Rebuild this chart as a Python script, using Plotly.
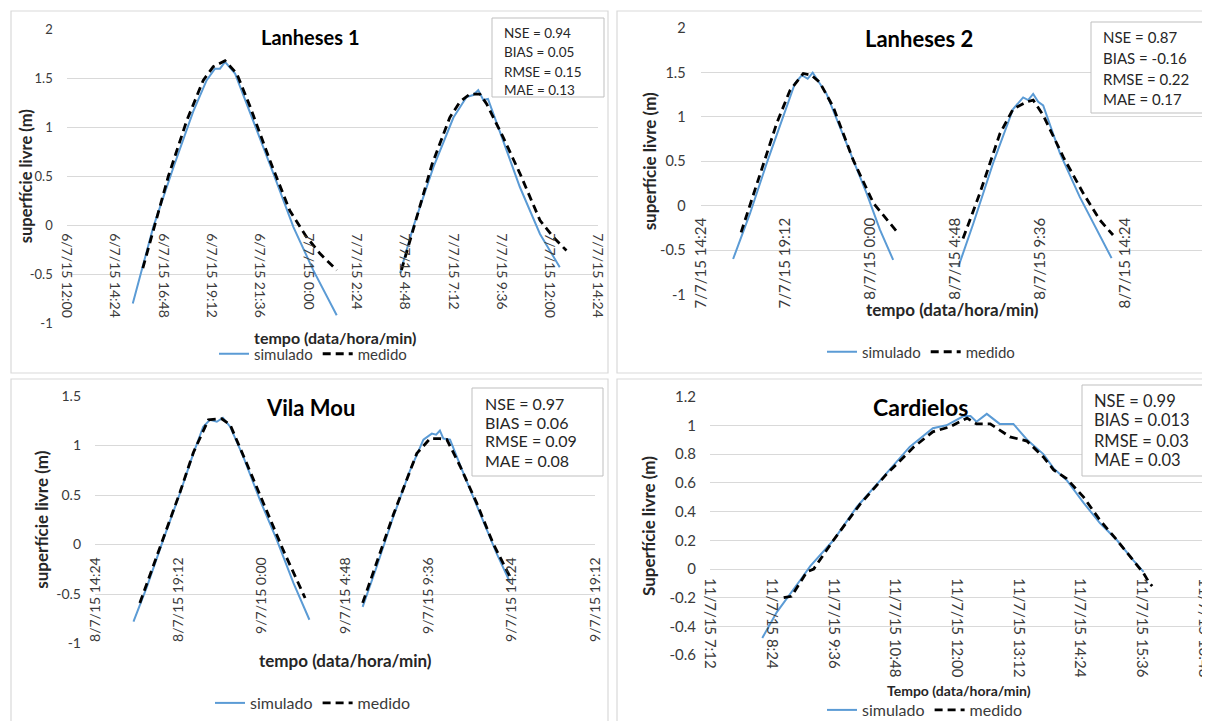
import datetime as dt
import plotly.graph_objects as go

W, H = 1210, 721

# ---------------- data ----------------
# Lanheses 1
lan1_sim_time = ["2015-07-06 15:17", "2015-07-06 16:18", "2015-07-06 17:18", "2015-07-06 18:17",
                 "2015-07-06 18:57", "2015-07-06 19:22", "2015-07-06 19:37", "2015-07-06 19:52",
                 "2015-07-06 20:22", "2015-07-06 21:16", "2015-07-06 22:16", "2015-07-06 23:16",
                 "2015-07-07 00:15", "2015-07-07 01:25", None,
                 "2015-07-07 04:34", "2015-07-07 05:13", "2015-07-07 06:13", "2015-07-07 07:13",
                 "2015-07-07 07:52", "2015-07-07 08:12", "2015-07-07 08:27", "2015-07-07 08:42",
                 "2015-07-07 08:56", "2015-07-07 09:41", "2015-07-07 10:31", "2015-07-07 11:31",
                 "2015-07-07 12:30"]
lan1_sim_val = [-0.80, -0.02, 0.59, 1.16, 1.48, 1.60, 1.60, 1.67, 1.55, 1.07, 0.53, -0.02, -0.46, -0.92, None,
                -0.49, -0.02, 0.59, 1.10, 1.31, 1.33, 1.38, 1.28, 1.29, 0.87, 0.39, -0.09, -0.43]
lan1_med_time = ["2015-07-06 15:47", "2015-07-06 16:18", "2015-07-06 17:03", "2015-07-06 17:58",
                 "2015-07-06 18:47", "2015-07-06 19:17", "2015-07-06 19:52", "2015-07-06 20:27",
                 "2015-07-06 21:07", "2015-07-06 22:06", "2015-07-06 23:05", "2015-07-06 23:55",
                 "2015-07-07 00:35", "2015-07-07 01:25", None,
                 "2015-07-07 04:38", "2015-07-07 05:13", "2015-07-07 06:09", "2015-07-07 07:02",
                 "2015-07-07 07:32", "2015-07-07 08:02", "2015-07-07 08:32", "2015-07-07 08:52",
                 "2015-07-07 09:41", "2015-07-07 10:31", "2015-07-07 11:31", "2015-07-07 12:10",
                 "2015-07-07 12:50"]
lan1_med_val = [-0.44, -0.05, 0.50, 1.07, 1.48, 1.62, 1.68, 1.55, 1.21, 0.66, 0.15, -0.12, -0.29, -0.46, None,
                -0.46, -0.05, 0.62, 1.10, 1.26, 1.34, 1.34, 1.24, 0.90, 0.53, 0.05, -0.12, -0.26]
lan1_ticks = ["6/7/15 12:00", "6/7/15 14:24", "6/7/15 16:48", "6/7/15 19:12", "6/7/15 21:36",
              "7/7/15 0:00", "7/7/15 2:24", "7/7/15 4:48", "7/7/15 7:12", "7/7/15 9:36",
              "7/7/15 12:00", "7/7/15 14:24"]
lan1_yticks = [-1, -0.5, 0, 0.5, 1, 1.5, 2]
lan1_stats = ["NSE = 0.94", "BIAS = 0.05", "RMSE = 0.15", "MAE = 0.13"]

# Lanheses 2
lan2_sim_time = ["2015-07-07 16:14", "2015-07-07 17:11", "2015-07-07 18:08", "2015-07-07 19:04",
                 "2015-07-07 19:44", "2015-07-07 20:07", "2015-07-07 20:27", "2015-07-07 20:44",
                 "2015-07-07 21:08", "2015-07-07 21:31", "2015-07-07 22:39", "2015-07-07 23:47",
                 "2015-07-08 00:32", "2015-07-08 01:17", None,
                 "2015-07-08 04:58", "2015-07-08 05:49", "2015-07-08 06:56", "2015-07-08 08:04",
                 "2015-07-08 08:38", "2015-07-08 08:55", "2015-07-08 09:12", "2015-07-08 09:29",
                 "2015-07-08 09:46", "2015-07-08 10:43", "2015-07-08 11:50", "2015-07-08 12:47",
                 "2015-07-08 13:38"]
lan2_sim_val = [-0.60, -0.09, 0.48, 1.00, 1.38, 1.47, 1.43, 1.50, 1.37, 1.26, 0.70, 0.14, -0.27, -0.61, None,
                -0.69, -0.20, 0.48, 1.09, 1.22, 1.19, 1.26, 1.17, 1.13, 0.59, 0.10, -0.27, -0.59]
lan2_med_time = ["2015-07-07 16:41", "2015-07-07 17:34", "2015-07-07 18:42", "2015-07-07 19:27",
                 "2015-07-07 20:12", "2015-07-07 20:40", "2015-07-07 21:08", "2015-07-07 21:54",
                 "2015-07-07 23:02", "2015-07-08 00:10", "2015-07-08 01:29", None,
                 "2015-07-08 05:14", "2015-07-08 06:11", "2015-07-08 07:19", "2015-07-08 08:04",
                 "2015-07-08 08:50", "2015-07-08 09:12", "2015-07-08 09:46", "2015-07-08 10:54",
                 "2015-07-08 12:02", "2015-07-08 12:58", "2015-07-08 13:43"]
lan2_med_val = [-0.30, 0.25, 0.93, 1.30, 1.49, 1.47, 1.39, 1.11, 0.51, 0.03, -0.29, None,
                -0.37, 0.14, 0.81, 1.09, 1.17, 1.19, 1.02, 0.55, 0.14, -0.16, -0.33]
lan2_ticks = ["7/7/15 14:24", "7/7/15 19:12", "8/7/15 0:00", "8/7/15 4:48", "8/7/15 9:36",
              "8/7/15 14:24", "8/7/15 19:12"]
lan2_yticks = [-1, -0.5, 0, 0.5, 1, 1.5, 2]
lan2_stats = ["NSE = 0.87", "BIAS = -0.16", "RMSE = 0.22", "MAE = 0.17"]

# Vila Mou
vila_sim_time = ["2015-07-08 16:37", "2015-07-08 17:23", "2015-07-08 18:20", "2015-07-08 19:18",
                 "2015-07-08 20:04", "2015-07-08 20:38", "2015-07-08 21:01", "2015-07-08 21:25",
                 "2015-07-08 21:46", "2015-07-08 22:11", "2015-07-08 22:56", "2015-07-08 23:54",
                 "2015-07-09 00:52", "2015-07-09 01:50", "2015-07-09 02:45", None,
                 "2015-07-09 05:49", "2015-07-09 06:38", "2015-07-09 07:35", "2015-07-09 08:33",
                 "2015-07-09 09:19", "2015-07-09 09:48", "2015-07-09 10:03", "2015-07-09 10:16",
                 "2015-07-09 10:28", "2015-07-09 10:51", "2015-07-09 11:37", "2015-07-09 12:35",
                 "2015-07-09 13:32", "2015-07-09 14:18"]
vila_sim_val = [-0.78, -0.43, 0.05, 0.52, 0.92, 1.19, 1.26, 1.24, 1.28, 1.19, 0.89, 0.45, 0.05, -0.39, -0.76, None,
                -0.63, -0.22, 0.28, 0.75, 1.06, 1.12, 1.11, 1.15, 1.07, 1.06, 0.72, 0.31, -0.09, -0.38]
vila_med_time = ["2015-07-08 16:59", "2015-07-08 18:20", "2015-07-08 19:18", "2015-07-08 20:04",
                 "2015-07-08 20:56", "2015-07-08 21:42", "2015-07-08 22:11", "2015-07-08 23:08",
                 "2015-07-09 00:06", "2015-07-09 01:15", "2015-07-09 02:30", None,
                 "2015-07-09 05:49", "2015-07-09 07:35", "2015-07-09 08:56", "2015-07-09 09:42",
                 "2015-07-09 10:16", "2015-07-09 10:40", "2015-07-09 11:26", "2015-07-09 12:23",
                 "2015-07-09 13:20", "2015-07-09 14:13", "2015-07-09 14:24"]
vila_med_val = [-0.59, 0.06, 0.53, 0.93, 1.26, 1.27, 1.21, 0.82, 0.42, -0.06, -0.54, None,
                -0.59, 0.30, 0.92, 1.07, 1.07, 1.06, 0.79, 0.42, 0.01, -0.29, -0.36]
vila_ticks = ["8/7/15 14:24", "8/7/15 19:12", "9/7/15 0:00", "9/7/15 4:48", "9/7/15 9:36",
              "9/7/15 14:24", "9/7/15 19:12"]
vila_yticks = [-1, -0.5, 0, 0.5, 1, 1.5]
vila_stats = ["NSE = 0.97", "BIAS = 0.06", "RMSE = 0.09", "MAE = 0.08"]

# Cardielos
card_sim_time = ["2015-07-11 08:13", "2015-07-11 08:30", "2015-07-11 08:57", "2015-07-11 09:09",
                 "2015-07-11 09:36", "2015-07-11 10:03", "2015-07-11 10:34", "2015-07-11 11:05",
                 "2015-07-11 11:32", "2015-07-11 11:48", "2015-07-11 12:08", "2015-07-11 12:16",
                 "2015-07-11 12:23", "2015-07-11 12:35", "2015-07-11 12:50", "2015-07-11 13:06",
                 "2015-07-11 13:22", "2015-07-11 13:41", "2015-07-11 13:53", "2015-07-11 14:08",
                 "2015-07-11 14:28", "2015-07-11 14:47", "2015-07-11 15:07", "2015-07-11 15:26",
                 "2015-07-11 15:38"]
card_sim_val = [-0.48, -0.30, -0.08, 0.02, 0.20, 0.43, 0.64, 0.85, 0.98, 1.00, 1.065, 1.065,
                1.025, 1.08, 1.01, 1.01, 0.90, 0.80, 0.70, 0.62, 0.46, 0.32, 0.20, 0.06, -0.02]
card_med_time = ["2015-07-11 08:38", "2015-07-11 08:47", "2015-07-11 09:05", "2015-07-11 09:13",
                 "2015-07-11 09:36", "2015-07-11 10:07", "2015-07-11 10:38", "2015-07-11 11:10",
                 "2015-07-11 11:32", "2015-07-11 11:52", "2015-07-11 12:12", "2015-07-11 12:23",
                 "2015-07-11 12:39", "2015-07-11 13:02", "2015-07-11 13:22", "2015-07-11 13:41",
                 "2015-07-11 13:53", "2015-07-11 14:08", "2015-07-11 14:28", "2015-07-11 14:47",
                 "2015-07-11 15:07", "2015-07-11 15:26", "2015-07-11 15:38", "2015-07-11 15:44",
                 "2015-07-11 15:48"]
card_med_val = [-0.20, -0.19, -0.02, 0.00, 0.20, 0.45, 0.66, 0.85, 0.955, 0.99, 1.05, 1.01,
                1.01, 0.92, 0.89, 0.78, 0.69, 0.63, 0.50, 0.34, 0.20, 0.06, -0.03, -0.09, -0.12]
card_ticks = ["11/7/15 7:12", "11/7/15 8:24", "11/7/15 9:36", "11/7/15 10:48", "11/7/15 12:00",
              "11/7/15 13:12", "11/7/15 14:24", "11/7/15 15:36", "11/7/15 16:48"]
card_yticks = [-0.6, -0.4, -0.2, 0, 0.2, 0.4, 0.6, 0.8, 1, 1.2]
card_stats = ["NSE = 0.99", "BIAS = 0.013", "RMSE = 0.03", "MAE = 0.03"]

titles = ["Lanheses 1", "Lanheses 2", "Vila Mou", "Cardielos"]
y_titles = ["superfície livre (m)", "superfície livre (m)", "superfície livre (m)", "Superfície livre (m)"]
x_titles = ["tempo (data/hora/min)", "tempo (data/hora/min)", "tempo (data/hora/min)", "Tempo (data/hora/min)"]
series_names = ["simulado", "medido"]

# ---------------- styling / layout (pixels of the 1210x721 picture) ----------------
FONT = "Lato"
BLUE = "#5B9BD5"
GRID = "#D9D9D9"
TXT = "#262626"
TICK = "#3A3A3A"
PAGE_OFF = 8  # the page body margin shifts the figure by 8 px; compensate

panels = [
    dict(data=(lan1_sim_time, lan1_sim_val, lan1_med_time, lan1_med_val), ticks=lan1_ticks,
         yticks=lan1_yticks, stats=lan1_stats, plot=(66.7, 598, 29.5, 323), angle=90,
         fs=dict(yt=13, xt=14, title=20, ytit=16.5, xtit=16, st=13.5, leg=15),
         title_c=(310, 37), ytit_x=26, xtit_c=(335, 337), leg_c=(313, 354),
         sbox=(492, 604, 18, 97), st_x=502, st_y=(33, 52, 72, 90), ystand=13, xstand=7),
    dict(data=(lan2_sim_time, lan2_sim_val, lan2_med_time, lan2_med_val), ticks=lan2_ticks,
         yticks=lan2_yticks, stats=lan2_stats, plot=(700.7, 1210, 28.2, 294.5), angle=-90,
         fs=dict(yt=14.5, xt=15, title=22, ytit=17, xtit=17, st=15, leg=15),
         title_c=(919, 39), ytit_x=649, xtit_c=(953, 309), leg_c=(921, 352),
         sbox=(1091, 1212, 22, 113), st_x=1101, st_y=(37, 58, 79, 99), ystand=14, xstand=8),
    dict(data=(vila_sim_time, vila_sim_val, vila_med_time, vila_med_val), ticks=vila_ticks,
         yticks=vila_yticks, stats=vila_stats, plot=(95, 595, 396, 643.5), angle=-90,
         fs=dict(yt=14, xt=14, title=22, ytit=17, xtit=17, st=16, leg=16),
         title_c=(310, 407), ytit_x=42, xtit_c=(345, 660), leg_c=(313, 703),
         sbox=(472, 603, 388, 476), st_x=483, st_y=(403, 422, 441, 460), ystand=13, xstand=9),
    dict(data=(card_sim_time, card_sim_val, card_med_time, card_med_val), ticks=card_ticks,
         yticks=card_yticks, stats=card_stats, plot=(710, 1203.6, 396.6, 655.2), angle=90,
         fs=dict(yt=15, xt=15, title=23, ytit=17, xtit=14, st=16.5, leg=16),
         title_c=(920, 407), ytit_x=649, xtit_c=(959, 690), leg_c=(925, 710),
         sbox=(1082, 1212, 385, 476), st_x=1092, st_y=(401, 420, 441, 460), ystand=13, xstand=8),
]

borders = [(11, 608, 11, 373), (617, 1212, 11, 373), (11, 608, 379, 723), (617, 1212, 379, 723)]


def px(x):
    return (x - PAGE_OFF) / W


def py(y):
    return 1 - (y - PAGE_OFF) / H


def parse_tick(s):
    return dt.datetime.strptime(s, "%d/%m/%y %H:%M").strftime("%Y-%m-%d %H:%M")


fig = go.Figure()
layout = dict(width=W, height=H, margin=dict(l=0, r=0, t=0, b=0, pad=0, autoexpand=False), autosize=False,
              paper_bgcolor="white", plot_bgcolor="white",
              font=dict(family=FONT, color=TXT), showlegend=True)
annotations = []
shapes = []

for (l, r, t, b) in borders:
    shapes.append(dict(type="rect", xref="paper", yref="paper", x0=px(l), x1=min(px(r), 1), y0=max(py(b), 0),
                       y1=py(t), line=dict(color=GRID, width=1.2), fillcolor="rgba(0,0,0,0)", layer="below"))

for i, p in enumerate(panels):
    n = "" if i == 0 else str(i + 1)
    xa, ya, leg = "x" + n, "y" + n, "legend" + n
    st, sv, mt, mv = p["data"]
    fig.add_trace(go.Scatter(x=st, y=sv, name=series_names[0], mode="lines",
                             line=dict(color=BLUE, width=2), xaxis=xa, yaxis=ya, legend=leg))
    fig.add_trace(go.Scatter(x=mt, y=mv, name=series_names[1], mode="lines",
                             line=dict(color="black", width=2.8, dash="8px,5px"),
                             xaxis=xa, yaxis=ya, legend=leg))
    L, R, T, B = p["plot"]
    ymin, ymax = min(p["yticks"]), max(p["yticks"])
    zero_px = B - (0 - ymin) / (ymax - ymin) * (B - T)
    tv = [parse_tick(s) for s in p["ticks"]]
    fs = p["fs"]
    layout["xaxis" + n] = dict(domain=[px(L), min(px(R), 1)], anchor="free", position=py(zero_px), type="date",
                               range=[tv[0], tv[-1]], tickmode="array", tickvals=tv, ticktext=p["ticks"],
                               tickangle=p["angle"], showgrid=False, zeroline=False, showline=False,
                               ticks="", tickfont=dict(size=fs["xt"], color=TICK, family=FONT),
                               ticklabelstandoff=p["xstand"], ticklabeloverflow="allow", automargin=False)
    layout["yaxis" + n] = dict(domain=[py(B), py(T)], anchor=xa, range=[ymin, ymax], tickmode="array",
                               tickvals=p["yticks"], ticktext=[f"{v:g}" for v in p["yticks"]],
                               showgrid=True, gridcolor=GRID, gridwidth=1, zeroline=False, showline=False,
                               ticks="", tickfont=dict(size=fs["yt"], color=TICK, family=FONT),
                               ticklabelstandoff=p["ystand"], automargin=False)
    layout[leg] = dict(orientation="h", x=px(p["leg_c"][0]), y=py(p["leg_c"][1]), xanchor="center",
                       yanchor="middle", font=dict(size=fs["leg"], color=TICK, family=FONT),
                       bgcolor="rgba(0,0,0,0)", itemwidth=30, tracegroupgap=0)
    # titles
    annotations.append(dict(text="<b>" + titles[i] + "</b>", x=px(p["title_c"][0]), y=py(p["title_c"][1]),
                            xref="paper", yref="paper", showarrow=False, xanchor="center", yanchor="middle",
                            font=dict(size=fs["title"], color="black", family=FONT)))
    annotations.append(dict(text="<b>" + y_titles[i] + "</b>", x=px(p["ytit_x"]), y=py((T + B) / 2),
                            xref="paper", yref="paper", showarrow=False, textangle=-90,
                            xanchor="center", yanchor="middle",
                            font=dict(size=fs["ytit"], color=TXT, family=FONT)))
    annotations.append(dict(text="<b>" + x_titles[i] + "</b>", x=px(p["xtit_c"][0]), y=py(p["xtit_c"][1]),
                            xref="paper", yref="paper", showarrow=False, xanchor="center", yanchor="middle",
                            font=dict(size=fs["xtit"], color=TXT, family=FONT)))
    # stats box
    bl, br, bt, bb = p["sbox"]
    shapes.append(dict(type="rect", xref="paper", yref="paper", x0=px(bl), x1=min(px(br), 1), y0=py(bb),
                       y1=py(bt), line=dict(color="#BFBFBF", width=1), fillcolor="white", layer="above"))
    for line_txt, ly in zip(p["stats"], p["st_y"]):
        annotations.append(dict(text=line_txt, x=px(p["st_x"]), y=py(ly), xref="paper", yref="paper",
                                showarrow=False, xanchor="left", yanchor="middle",
                                font=dict(size=fs["st"], color=TXT, family=FONT)))

layout["annotations"] = annotations
layout["shapes"] = shapes
fig.update_layout(**layout)
fig.write_html("out.html")
